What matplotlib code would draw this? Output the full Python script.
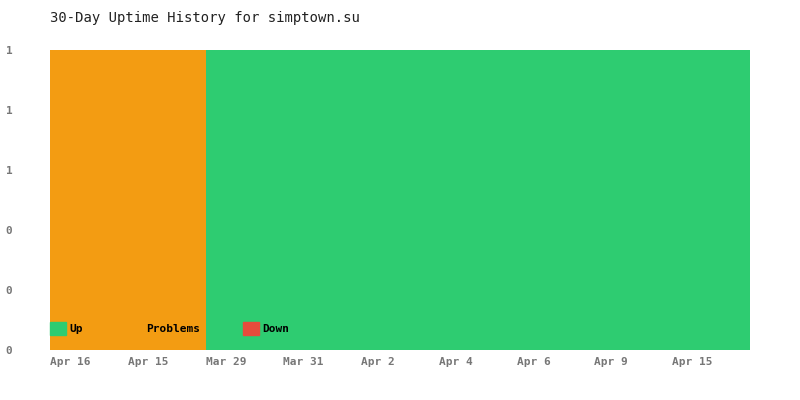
import matplotlib.pyplot as plt
from matplotlib.patches import Patch

# one bar per day, share of checks in each state
day_status = ['problems'] * 6 + ['up'] * 21
tick_labels = ['Apr 16', 'Apr 15', 'Mar 29', 'Mar 31', 'Apr 2', 'Apr 4', 'Apr 6', 'Apr 9', 'Apr 15']
y_ticks = [0, 0.2, 0.4, 0.6, 0.8, 1.0]
y_labels = ['0', '0', '0', '1', '1', '1']

colors = {'up': '#2ecc71', 'problems': '#f39c12', 'down': '#e74c3c'}
font = 'DejaVu Sans Mono'

fig = plt.figure(figsize=(8, 4), dpi=100)
ax = fig.add_axes([50 / 800, 50 / 400, 700 / 800, 300 / 400])

for i, s in enumerate(day_status):
    ax.bar(i, 1.0, width=1.0, align='edge', color=colors[s], linewidth=0)

ax.set_xlim(0, len(day_status))
ax.set_ylim(0, 1)
ax.set_xticks(range(0, len(day_status), 3))
ax.set_xticklabels(tick_labels, ha='left', family=font, fontsize=8,
                   fontweight='bold', color='#777777')
ax.set_yticks(y_ticks)
ax.set_yticklabels(y_labels, family=font, fontsize=8, fontweight='bold', color='#777777')
ax.tick_params(length=0, axis='x', pad=5)
ax.tick_params(length=0, axis='y', pad=32)
for lab in ax.get_yticklabels():
    lab.set_ha('left')
for sp in ax.spines.values():
    sp.set_visible(False)

handles = [Patch(color=colors['up'], label='Up'),
           Patch(color=colors['problems'], label='Problems'),
           Patch(color=colors['down'], label='Down')]
leg = ax.legend(handles=handles, loc='lower left', bbox_to_anchor=(0, 0.05), ncol=3,
                frameon=False, prop={'family': font, 'size': 8, 'weight': 'bold'},
                handlelength=1.45, handleheight=1.45, handletextpad=0.3,
                columnspacing=3.9, borderaxespad=0, borderpad=0)

fig.text(50 / 800, 1 - 18 / 400, '30-Day Uptime History for simptown.su',
         family=font, fontsize=10, va='center', ha='left', color='#222222')

fig.savefig('out.png', dpi=100)
